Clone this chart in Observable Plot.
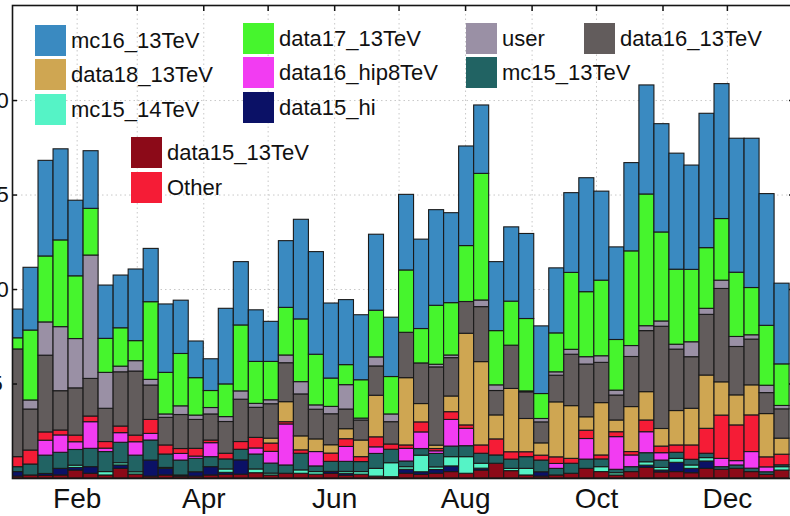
<!DOCTYPE html>
<html>
<head>
<meta charset="utf-8">
<script src="https://cdn.jsdelivr.net/npm/d3@7"></script>
<script src="https://cdn.jsdelivr.net/npm/@observablehq/plot@0.6"></script>
<style>
  html, body { margin: 0; padding: 0; background: #fff; }
  #wrap { position: relative; width: 790px; height: 516px; overflow: hidden; font-family: "Liberation Sans", Arial, Helvetica, sans-serif; }
  #wrap svg { position: absolute; left: -50px; top: 0; max-width: none !important; width: 848px !important; height: 516px !important; }
  .lg { position: absolute; display: flex; align-items: center; font-size: 22px; color: #111; white-space: nowrap; }
  .lg .sw { width: 31px; height: 31px; margin-right: 5px; flex: none; }
</style>
</head>
<body>
<div id="wrap"></div>
<script>
// Week start dates (weekly bars)
const weeks = ["2017-12-31","2018-01-07","2018-01-14","2018-01-21","2018-01-28","2018-02-04","2018-02-11","2018-02-18","2018-02-25",
"2018-03-04","2018-03-11","2018-03-18","2018-03-25","2018-04-01","2018-04-08","2018-04-15","2018-04-22","2018-04-29",
"2018-05-06","2018-05-13","2018-05-20","2018-05-27","2018-06-03","2018-06-10","2018-06-17","2018-06-24",
"2018-07-01","2018-07-08","2018-07-15","2018-07-22","2018-07-29","2018-08-05","2018-08-12","2018-08-19","2018-08-26",
"2018-09-02","2018-09-09","2018-09-16","2018-09-23","2018-09-30","2018-10-07","2018-10-14","2018-10-21","2018-10-28",
"2018-11-04","2018-11-11","2018-11-18","2018-11-25","2018-12-02","2018-12-09","2018-12-16","2018-12-23"];

// Series, bottom to top of stack
const seriesNames = ["data15_13TeV","data15_hi","mc15_14TeV","mc15_13TeV","data16_hip8TeV","Other","data18_13TeV","data16_13TeV","user","data17_13TeV","mc16_13TeV"];
const seriesColors = ["#8c0a18","#0b1166","#55f3c6","#216363","#f23cf2","#f51c36","#cfa652","#625c5c","#9a90a5","#46f52d","#3a8ac1"];

const data15_13TeV = [.1,.16,.14,.16,.42,.25,.16,.51,.21,.1,.16,.1,.1,.16,.2,.2,.28,.16,.25,.25,.2,.25,.15,.2,.1,.07,
  .25,.19,.25,.34,.25,.42,.78,.39,.16,.1,.16,.25,.51,.34,.16,.34,.56,.32,.34,.28,.51,.46,.51,.34,.19,.42];
const data15_hi = [.24,0,.1,.35,.14,.35,0,.18,0,.85,.35,.06,.23,.44,.1,.76,0,0,0,0,0,.1,.1,0,0,0,
  .21,.14,.2,.3,0,.1,0,0,0,.23,0,0,0,0,0,0,.12,.1,.49,.23,.39,0,0,0,0,0];
const mc15_14TeV = [0,0,0,0,.12,0,.18,.12,.12,0,.05,0,0,0,.18,0,.2,.1,0,.18,.14,0,.1,.14,.41,.74,
  .14,.88,.14,.49,.88,.26,0,.12,.35,0,0,0,0,.26,.12,0,.18,.14,.21,.18,.18,0,0,0,0,.18];
const mc15_13TeV = [.26,.58,.97,.85,.83,.97,1.06,1.08,.88,1.06,.71,.79,.71,.53,.53,.56,.79,.53,.44,.88,.3,.53,.53,.53,.79,.71,
  .3,.35,.71,.56,.58,.53,.44,.49,.62,.62,.35,.53,.49,.41,.18,.26,.48,.39,.32,.3,.23,.14,.18,.18,.14,.1];
const data16_hip8TeV = [0,0,.79,.92,.41,1.41,.18,.51,.71,.35,0,.35,.12,.74,0,0,.32,.62,2.17,0,.76,0,.79,0,.35,0,
  .67,.88,.14,1.41,.92,0,0,0,0,0,.26,0,1.09,0,1.73,.62,1.11,.39,0,0,0,.44,.23,.88,.26,0];
const other = [.53,.74,.44,.26,.35,.3,.35,.35,.35,.74,.48,.26,.41,.14,.3,.41,.56,.44,.12,.18,0,.44,.41,.26,.53,.28,
  .18,.53,.12,.41,.18,.44,.85,.39,.26,.26,.35,.26,.44,.21,.26,.18,.62,.35,.39,.76,1.32,2.29,1.89,1.94,.53,.56];
const data18_13TeV = [0,0,0,0,0,0,0,0,0,0,0,0,0,0,0,0,0,.26,1.06,.74,.67,.44,.53,.88,2.2,0,
  3.56,.97,.18,.83,4.85,4.41,1.27,3.35,1.76,.65,2.91,2.79,.71,2.77,.62,2.38,1.5,.93,1.82,1.94,2.82,1.76,1.59,1.59,2.29,.85];
const data16_13TeV = [5.7,2.17,4.06,2.08,2.5,1.99,1.76,2.87,3.39,1.82,1.46,1.8,1.53,1.38,1.68,2.24,1.59,1.82,2.06,2.22,1.57,1.64,1.04,1.06,1.55,1.18,
  2.4,2.15,4.14,2.03,1.68,2.91,1.29,2.29,1.41,1.11,1.41,2.72,2.79,2.13,1.32,2.65,3.23,5.41,3.25,2.73,3.21,4.94,2.56,2.42,1.11,1.55];
const user = [0,.48,1.76,3.39,2.61,6.53,1.9,.3,.55,.3,.18,.46,.23,.34,.26,.44,.21,.21,.41,.65,.23,.39,1.29,.1,.48,.41,
  0,0,.14,.14,0,.35,.3,0,.05,.18,.18,.26,.39,.35,.26,.58,.26,.28,.26,.79,.32,.44,.53,.23,.39,.18];
const data17_13TeV = [.59,3.7,3.49,4.59,3.32,2.47,1.8,2.03,1.06,4.11,2.2,2.77,1.98,.9,1.73,3.49,2.22,2.03,2.52,3.32,2.68,1.5,1.06,2.03,2.47,1.98,
  3.3,1.82,3.12,2.77,2.96,6.7,2.87,2.33,3.83,1.32,2.06,4.07,3.44,4.0,2.68,5.01,6.97,4.71,3.97,3.83,3.21,3.26,3.4,2.5,3.17,2.2];
const mc16_13TeV = [1.52,3.32,5.06,4.82,4.0,3.05,2.82,2.79,3.79,2.82,3.62,2.82,1.94,1.68,4.0,3.35,2.73,2.12,3.53,5.27,5.43,3.97,3.44,3.44,4.02,3.14,
  4.0,4.73,5.06,4.76,5.27,3.62,3.65,3.93,4.5,3.58,3.44,4.22,6.03,4.71,4.9,4.67,5.77,5.73,6.14,5.52,7.11,7.14,7.09,7.9,6.97,4.27];

const seriesValues = [data15_13TeV, data15_hi, mc15_14TeV, mc15_13TeV, data16_hip8TeV, other, data18_13TeV, data16_13TeV, user, data17_13TeV, mc16_13TeV];

// Axis ticks
const yTicks = [5, 10, 15, 20];
const monthTicks = ["2018-02-01","2018-03-01","2018-04-01","2018-05-01","2018-06-01","2018-07-01","2018-08-01","2018-09-01","2018-10-01","2018-11-01","2018-12-01"];
const labelTicks = ["2018-02-01","2018-04-01","2018-06-01","2018-08-01","2018-10-01","2018-12-01"];
const tickLabels = ["Feb","Apr","Jun","Aug","Oct","Dec"];

// Build table
const rows = [];
weeks.forEach((w, i) => {
  const start = new Date(w + "T00:00:00Z");
  const end = d3.utcDay.offset(start, 7);
  seriesNames.forEach((s, j) => {
    const v = seriesValues[j][i];
    if (v > 0) rows.push({start, end, series: s, value: v});
  });
});

const mDates = monthTicks.map(d => new Date(d + "T00:00:00Z"));
const lDates = labelTicks.map(d => new Date(d + "T00:00:00Z"));
const labelFor = d => { const k = lDates.findIndex(x => +x === +d); return k >= 0 ? tickLabels[k] : ""; };

const grid = {stroke: "#c8c8c8", strokeOpacity: 1, strokeDasharray: "1.5,3", strokeWidth: 1};

const chart = Plot.plot({
  width: 848, height: 516,
  marginLeft: 62, marginRight: 5, marginTop: 5, marginBottom: 38,
  x: {type: "utc", domain: [new Date(Date.UTC(2018,0,1,20,59)), new Date(Date.UTC(2018,11,31,19,26))], label: null},
  y: {domain: [0, 25.03], label: null},
  color: {domain: seriesNames, range: seriesColors},
  style: {fontFamily: "'Liberation Sans', Arial, Helvetica, sans-serif", background: "transparent", color: "#111"},
  marks: [
    Plot.gridY(yTicks, grid),
    Plot.gridX(mDates, grid),
    Plot.rectY(rows, Plot.stackY({x1: "start", x2: "end", y: "value", fill: "series", order: seriesNames,
      stroke: "#1a1a1a", strokeWidth: 1.1, clip: true})),
    Plot.axisY(yTicks, {anchor: "left", label: null, tickSize: -5, tickPadding: 21, textAnchor: "middle", fontSize: 22, strokeWidth: 1.5, tickFormat: d => String(d)}),
    Plot.axisY(yTicks, {anchor: "right", label: null, tickSize: -5, strokeWidth: 1.5, tickFormat: () => ""}),
    Plot.axisX(mDates, {anchor: "top", label: null, tickSize: -5, strokeWidth: 1.5, tickFormat: () => ""}),
    Plot.axisX(lDates, {anchor: "bottom", label: null, tickSize: 0, tickPadding: 10, fontSize: 28, tickFormat: labelFor}),
    Plot.frame({stroke: "#151515", strokeWidth: 1.6})
  ]
});

const wrap = document.getElementById("wrap");
wrap.appendChild(chart);

// Legend (in-plot, layout positions)
const legendLayout = [
  ["mc16_13TeV", 35, 25], ["data18_13TeV", 35, 59], ["mc15_14TeV", 35, 94],
  ["data17_13TeV", 243, 23], ["data16_hip8TeV", 243, 57], ["data15_hi", 243, 92],
  ["user", 466, 23], ["mc15_13TeV", 466, 57],
  ["data16_13TeV", 584, 23],
  ["data15_13TeV", 131, 137], ["Other", 131, 172]
];
legendLayout.forEach(([name, left, top]) => {
  const el = document.createElement("div");
  el.className = "lg";
  el.style.left = left + "px";
  el.style.top = top + "px";
  const sw = document.createElement("div");
  sw.className = "sw";
  sw.style.background = seriesColors[seriesNames.indexOf(name)];
  const tx = document.createElement("span");
  tx.textContent = name;
  el.appendChild(sw);
  el.appendChild(tx);
  wrap.appendChild(el);
});
</script>
</body>
</html>
